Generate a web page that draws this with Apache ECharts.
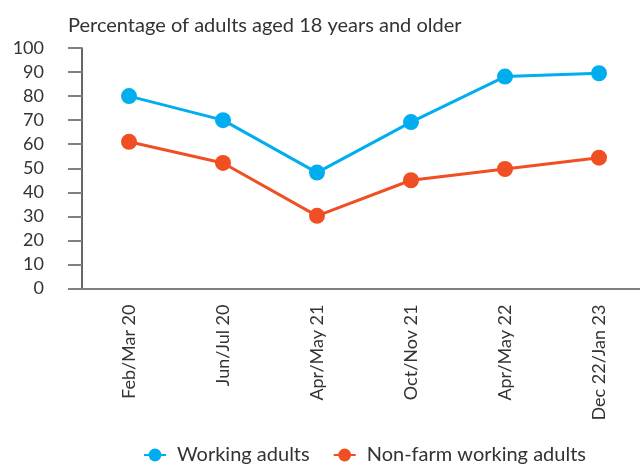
<!DOCTYPE html>
<html>
<head>
<meta charset="utf-8">
<script src="https://cdn.jsdelivr.net/npm/echarts@6/dist/echarts.min.js"></script>
<style>
  html, body { margin: 0; padding: 0; background: #fff; }
  #chart { width: 640px; height: 465px; }
</style>
</head>
<body>
<div id="chart"></div>
<script>
const categories = ["Feb/Mar 20", "Jun/Jul 20", "Apr/May 21", "Oct/Nov 21", "Apr/May 22", "Dec 22/Jan 23"];
const workingAdults = [80, 70, 48.2, 69.2, 88.1, 89.5];
const nonFarmAdults = [61, 52.2, 30.2, 45, 49.7, 54.4];
const yTicks = [0, 100, 10];

const font = "Lato, 'Noto Sans', sans-serif";
const textColor = "#333333";

const chart = echarts.init(document.getElementById("chart"), null, { renderer: "canvas" });

chart.setOption({
  animation: false,
  color: ["#00aeef", "#f04e23"],
  textStyle: { fontFamily: font },
  title: {
    text: "Percentage of adults aged 18 years and older",
    left: 63,
    top: 11,
    textStyle: { fontFamily: font, fontSize: 20, fontWeight: "normal", color: textColor }
  },
  legend: {
    left: 143,
    top: 445,
    padding: 0,
    itemWidth: 22,
    itemHeight: 16,
    itemGap: 23,
    textStyle: { fontFamily: font, fontSize: 20, color: textColor, padding: [0, 0, 0, 6] }
  },
  grid: {
    left: 82,
    top: 48,
    width: 564,
    bottom: 176.5,
    containLabel: false,
    outerBoundsMode: "none"
  },
  xAxis: {
    type: "category",
    data: categories,
    boundaryGap: true,
    axisLine: { lineStyle: { color: "#808080", width: 2 } },
    axisTick: { show: false },
    axisLabel: { rotate: 90, margin: 16, fontSize: 18, color: textColor, fontFamily: font }
  },
  yAxis: {
    type: "value",
    min: yTicks[0],
    max: yTicks[1],
    interval: yTicks[2],
    axisLine: { show: true, lineStyle: { color: "#333333", width: 1.5 } },
    axisTick: { show: true, length: 14, lineStyle: { color: "#808080", width: 2 } },
    axisLabel: { margin: 38, fontSize: 18, color: textColor, fontFamily: font },
    splitLine: { show: false }
  },
  series: [
    {
      name: "Working adults",
      type: "line",
      data: workingAdults,
      symbol: "circle",
      symbolSize: 16,
      lineStyle: { width: 3 }
    },
    {
      name: "Non-farm working adults",
      type: "line",
      data: nonFarmAdults,
      symbol: "circle",
      symbolSize: 16,
      lineStyle: { width: 3 }
    }
  ]
});
</script>
</body>
</html>
